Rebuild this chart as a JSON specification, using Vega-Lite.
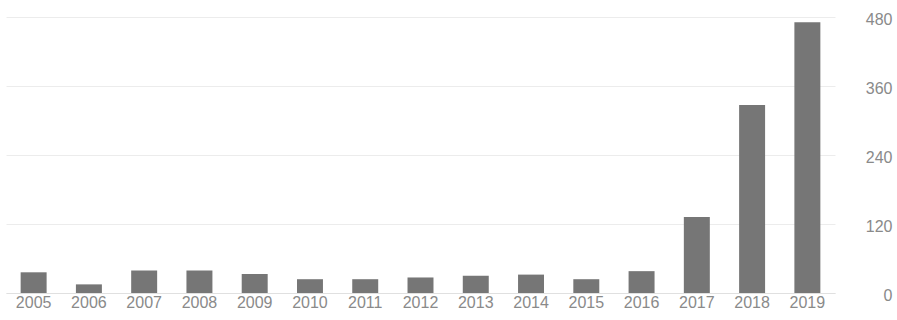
{
  "$schema": "https://vega.github.io/schema/vega-lite/v6.json",
  "width": 829,
  "height": 276,
  "autosize": {"type": "none"},
  "padding": {"left": 6, "top": 17, "right": 62, "bottom": 27},
  "background": "white",
  "config": {"view": {"stroke": null}, "font": "Liberation Sans"},
  "data": {"values": [
    {"year": "2005", "count": 36},
    {"year": "2006", "count": 15},
    {"year": "2007", "count": 39},
    {"year": "2008", "count": 39},
    {"year": "2009", "count": 33},
    {"year": "2010", "count": 24},
    {"year": "2011", "count": 24},
    {"year": "2012", "count": 27},
    {"year": "2013", "count": 30},
    {"year": "2014", "count": 32},
    {"year": "2015", "count": 24},
    {"year": "2016", "count": 38},
    {"year": "2017", "count": 132},
    {"year": "2018", "count": 327},
    {"year": "2019", "count": 471}
  ]},
  "mark": {"type": "bar", "color": "#767676"},
  "encoding": {
    "x": {
      "field": "year", "type": "ordinal", "title": null,
      "scale": {"paddingInner": 0.53, "paddingOuter": 0.265},
      "axis": {"labelAngle": 0, "ticks": false, "domain": true, "domainColor": "#e0e0e0", "labelColor": "#8a8a8a", "labelFontSize": 16, "labelPadding": 1}
    },
    "y": {
      "field": "count", "type": "quantitative", "title": null,
      "scale": {"domain": [0, 480], "nice": false},
      "axis": {"orient": "right", "values": [0, 120, 240, 360, 480], "ticks": false, "domain": false, "gridColor": "#ececec", "labelColor": "#8a8a8a", "labelFontSize": 16, "labelAlign": "right", "labelPadding": 57, "labelOffset": 2}
    }
  }
}
